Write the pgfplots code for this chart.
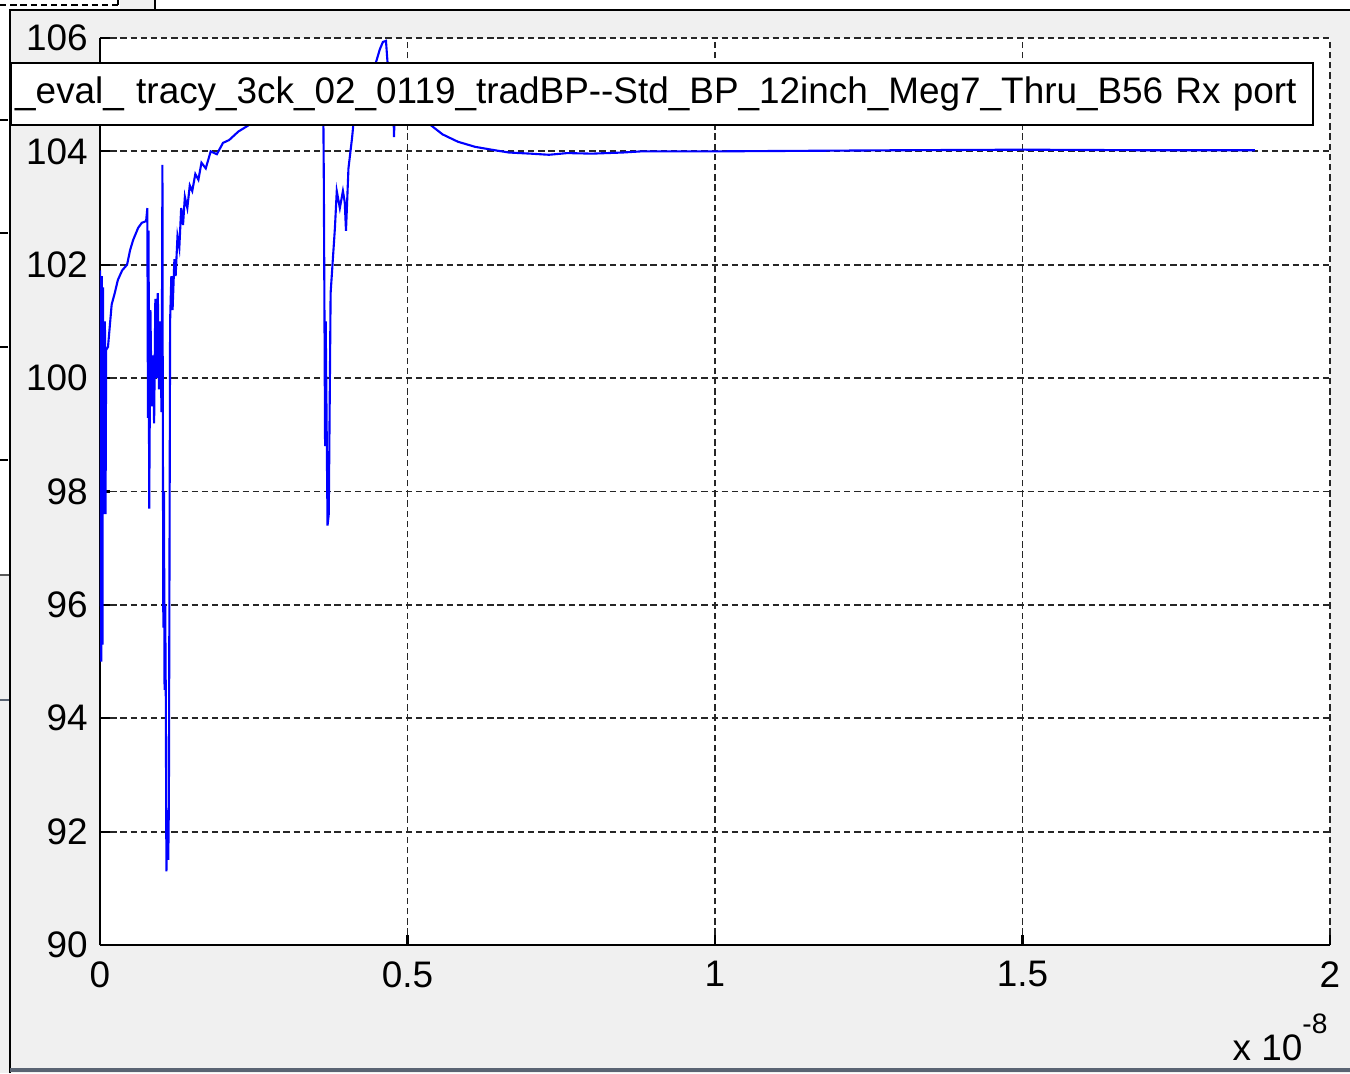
\documentclass[border=0pt]{standalone}
\usepackage{pgfplots}
\pgfplotsset{compat=1.18}
\usepackage{fontspec}
\setmainfont{Liberation Sans}
\definecolor{winbg}{RGB}{240,240,240}
\definecolor{framebar}{RGB}{90,100,115}

\begin{document}
\begin{tikzpicture}
% window background (1 px of the screenshot = 0.1 mm)
\fill[winbg] (-10mm,-12.8mm) rectangle (125mm,94.5mm);
\useasboundingbox (-10mm,-12.8mm) rectangle (125mm,94.5mm);
% bits of the neighbouring windows
\fill[white] (-10mm,37mm) rectangle (-9mm,94.5mm);
\fill[white] (-10mm,93.5mm) rectangle (2mm,94.5mm);
\fill[white] (5.5mm,93.5mm) rectangle (125mm,94.5mm);
\draw[black, line width=0.45pt, dash pattern=on 1.8pt off 1.1pt] (-10mm,94.0mm) -- (1.8mm,94.0mm);
\draw[black, line width=0.5pt] (1.8mm,94.0mm) -- (1.8mm,94.5mm);
\draw[black, line width=0.5pt] (5.5mm,93.5mm) -- (5.5mm,94.5mm);
\foreach \yy in {82.5,71.2,59.8,48.5} \draw[black, line width=0.4pt] (-10mm,\yy mm) -- (-9.2mm,\yy mm);
\draw[gray!70!black, line width=0.4pt] (-10mm,37mm) -- (-9mm,37mm);
\draw[framebar, line width=0.5pt] (-10mm,24.5mm) -- (-9mm,24.5mm);
% figure frame
\draw[black, line width=0.5pt] (-9mm,-12.8mm) -- (-9mm,93.5mm) -- (125mm,93.5mm);
\draw[framebar, line width=0.9pt] (-9mm,-12.5mm) -- (125mm,-12.5mm);

\begin{axis}[
    at={(0,0)}, anchor=south west,
    scale only axis,
    width=123mm, height=90.7mm,
    xmin=0, xmax=2, ymin=90, ymax=106,
    xtick={0,0.5,1,1.5,2},
    ytick={90,92,...,106},
    axis x line*=bottom, axis y line*=left,
    axis line style={-, black, line width=0.7pt},
    axis background/.style={fill=white},
    tick align=inside,
    major tick length=1mm,
    tick style={black, line width=0.6pt},
    grid=major,
    major grid style={black!85, line width=0.5pt, dash pattern=on 1.8pt off 1.1pt},
    tick label style={font=\fontsize{10.5}{12}\selectfont},
    xticklabel style={yshift=-0.4mm},
    /pgf/number format/assume math mode=true,
    clip=true,
]
\addplot[blue, line width=0.6pt] coordinates {
    (0,101.9) (0.002,95.0) (0.003,101.8) (0.004,95.3) (0.005,101.6)
    (0.006,97.6) (0.008,101.0) (0.009,97.6) (0.010,100.5)
    (0.013,100.55) (0.019,101.3) (0.024,101.5) (0.029,101.73) (0.036,101.9)
    (0.044,102.0) (0.049,102.26) (0.054,102.44) (0.062,102.65) (0.068,102.74)
    (0.075,102.77) (0.077,103.0) (0.078,99.3) (0.079,102.6) (0.080,97.7)
    (0.082,101.2) (0.084,99.5) (0.086,100.4) (0.088,99.2) (0.090,101.4)
    (0.092,100.0) (0.094,101.5) (0.096,99.8) (0.098,101.0) (0.100,99.4)
    (0.101,101.8) (0.1015,103.76) (0.102,100.0) (0.103,95.6) (0.104,98.0)
    (0.105,94.5) (0.106,96.0) (0.107,94.4) (0.108,91.3) (0.110,92.3)
    (0.111,91.5) (0.112,92.5) (0.114,101.0) (0.116,101.8) (0.118,101.2)
    (0.121,102.1) (0.123,101.8) (0.126,102.5) (0.129,102.3) (0.132,103.0)
    (0.135,102.7) (0.138,103.2) (0.142,103.0) (0.146,103.4) (0.150,103.3)
    (0.155,103.6) (0.160,103.5) (0.165,103.8) (0.172,103.7) (0.180,104.0)
    (0.190,103.95) (0.200,104.15) (0.210,104.2) (0.225,104.35) (0.240,104.45)
    (0.260,104.6) (0.280,104.75) (0.300,104.85) (0.330,104.95) (0.362,105.0)
    (0.363,104.9) (0.364,103.4) (0.366,98.8) (0.367,101.0) (0.370,97.4)
    (0.372,97.6) (0.375,101.5) (0.382,102.65) (0.385,103.3) (0.390,103.0)
    (0.395,103.3) (0.398,103.1) (0.400,102.6) (0.404,103.7) (0.410,104.25)
    (0.413,104.6) (0.420,104.9) (0.440,105.3) (0.449,105.58) (0.455,105.8)
    (0.460,105.93) (0.465,105.95) (0.468,105.5) (0.475,105.0) (0.477,104.9)
    (0.478,104.25) (0.480,104.9) (0.500,104.8) (0.520,104.6) (0.537,104.47)
    (0.557,104.3) (0.582,104.17) (0.610,104.08) (0.642,104.02) (0.665,103.98)
    (0.700,103.96) (0.730,103.94) (0.760,103.97) (0.800,103.96) (0.850,103.98)
    (0.880,104.0) (1.000,104.0) (1.300,104.02) (1.500,104.03) (1.700,104.02)
    (1.878,104.02)
};
\end{axis}

% legend box (clipped at the figure edge, as in the screenshot)
\node[draw=black, line width=0.7pt, fill=white, anchor=north west,
      text width=129.4mm, align=left, minimum height=6.2mm,
      inner xsep=0.4mm, inner ysep=0pt,
      font=\fontsize{10.5}{12}\selectfont]
  at (-9mm,88.3mm)
  {\_eval\_ tracy\_3ck\_02\_0119\_tradBP-{}-Std\_BP\_12inch\_Meg7\_Thru\_B56 Rx port};

% exponent of the x axis
\node[anchor=base west, inner sep=0pt, font=\fontsize{10.5}{12}\selectfont]
  at (113.2mm,-11.5mm) {x 10\raisebox{7.5pt}{\fontsize{8}{9}\selectfont -8}};
\end{tikzpicture}
\end{document}
